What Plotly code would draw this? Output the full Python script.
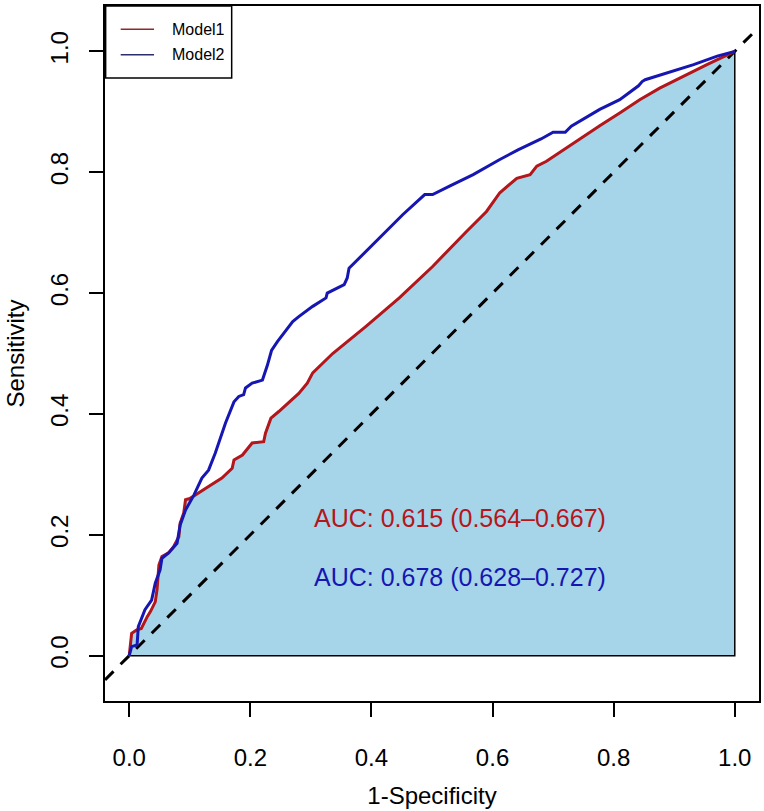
import plotly.graph_objects as go

# ---- data ----
series_names = ["Model1", "Model2"]
m1_fpr = [0, 0.004, 0.013, 0.02, 0.03, 0.035, 0.043, 0.046, 0.049, 0.054, 0.065, 0.073, 0.082, 0.084, 0.09,
          0.093, 0.10, 0.115, 0.131, 0.153, 0.17, 0.173, 0.187, 0.203, 0.222, 0.225, 0.234, 0.247, 0.269, 0.28,
          0.294, 0.303, 0.336, 0.391, 0.446, 0.501, 0.557, 0.59, 0.612, 0.64, 0.662, 0.673, 0.689, 0.717, 0.777,
          0.81, 0.843, 0.876, 0.915, 0.954, 1.0]
m1_tpr = [0, 0.037, 0.043, 0.045, 0.065, 0.073, 0.089, 0.11, 0.15, 0.164, 0.17, 0.18, 0.197, 0.219, 0.236,
          0.258, 0.26, 0.269, 0.28, 0.294, 0.31, 0.324, 0.332, 0.352, 0.354, 0.368, 0.393, 0.404, 0.423, 0.434,
          0.451, 0.468, 0.50, 0.545, 0.592, 0.644, 0.702, 0.735, 0.766, 0.79, 0.796, 0.81, 0.818, 0.837, 0.877,
          0.898, 0.92, 0.939, 0.959, 0.978, 1.0]
m2_fpr = [0, 0.004, 0.013, 0.015, 0.026, 0.037, 0.043, 0.051, 0.054, 0.065, 0.079, 0.084, 0.093, 0.107, 0.12,
          0.131, 0.142, 0.159, 0.173, 0.181, 0.189, 0.192, 0.203, 0.22, 0.228, 0.235, 0.245, 0.26, 0.27, 0.28,
          0.303, 0.325, 0.327, 0.355, 0.36, 0.363, 0.385, 0.418, 0.452, 0.488, 0.501, 0.529, 0.568, 0.612, 0.642,
          0.68, 0.70, 0.72, 0.73, 0.777, 0.81, 0.841, 0.847, 0.852, 0.888, 0.932, 0.971, 1.0]
m2_tpr = [0, 0.015, 0.018, 0.048, 0.076, 0.092, 0.12, 0.142, 0.161, 0.17, 0.186, 0.216, 0.241, 0.266, 0.294,
          0.307, 0.335, 0.385, 0.42, 0.429, 0.432, 0.443, 0.451, 0.456, 0.48, 0.505, 0.52, 0.54, 0.553, 0.561,
          0.578, 0.592, 0.60, 0.614, 0.625, 0.641, 0.663, 0.697, 0.73, 0.763, 0.763, 0.777, 0.796, 0.821, 0.837,
          0.855, 0.866, 0.866, 0.876, 0.904, 0.92, 0.943, 0.95, 0.953, 0.964, 0.978, 0.992, 1.0]
auc_vals = [0.615, 0.678]
auc_lo = [0.564, 0.628]
auc_hi = [0.667, 0.727]
tick_vals = [0.0, 0.2, 0.4, 0.6, 0.8, 1.0]
tick_text = ["0.0", "0.2", "0.4", "0.6", "0.8", "1.0"]

assert len(m1_fpr) == len(m1_tpr) and len(m2_fpr) == len(m2_tpr)

# ---- styling ----
RED = "#B3161B"
BLUE = "#1616B2"
LEG_COLORS = ["#8E2A2A", "#2A2E6E"]
FILL = "#A6D4E9"
FONT = "Liberation Sans, Arial, Helvetica, sans-serif"
x_range = [-0.04, 1.04]
y_range = [-0.075, 1.075]

fig = go.Figure()

# AUC polygon under Model1
fig.add_trace(go.Scatter(
    x=m1_fpr + [m1_fpr[-1], m1_fpr[0]], y=m1_tpr + [0, 0],
    mode="lines", fill="toself", fillcolor=FILL,
    line=dict(color="black", width=1.5), hoverinfo="skip", showlegend=False))

# diagonal reference (abline)
fig.add_trace(go.Scatter(
    x=x_range, y=x_range, mode="lines",
    line=dict(color="black", width=3, dash="12px,10px"), showlegend=False, hoverinfo="skip"))

fig.add_trace(go.Scatter(x=m1_fpr, y=m1_tpr, mode="lines", name=series_names[0],
                         line=dict(color=RED, width=3), showlegend=False))
fig.add_trace(go.Scatter(x=m2_fpr, y=m2_tpr, mode="lines", name=series_names[1],
                         line=dict(color=BLUE, width=3), showlegend=False))

# AUC labels
auc_colors = [RED, BLUE]
auc_y = [0.228, 0.130]
for i in range(2):
    fig.add_annotation(
        x=0.302, y=auc_y[i], xref="x", yref="y", xanchor="left", yanchor="middle",
        text=f"AUC: {auc_vals[i]:.3f} ({auc_lo[i]:.3f}\u2013{auc_hi[i]:.3f})",
        showarrow=False, font=dict(family=FONT, size=25, color=auc_colors[i]))

# manual legend (top-left box)
fig.add_shape(type="rect", xref="paper", yref="paper", x0=0.001, x1=0.1937, y0=0.8964, y1=1.0,
              line=dict(color="black", width=1.5), fillcolor="white", layer="above")
leg_y = [0.9665, 0.930]
for i in range(2):
    fig.add_shape(type="line", xref="paper", yref="paper", x0=0.024, x1=0.075, y0=leg_y[i], y1=leg_y[i],
                  line=dict(color=LEG_COLORS[i], width=1.5), layer="above")
    fig.add_annotation(x=0.0994, y=leg_y[i], xref="paper", yref="paper", xanchor="left", yanchor="middle",
                       text=series_names[i], showarrow=False,
                       font=dict(family=FONT, size=16, color="black"))

axis_common = dict(
    showgrid=False, zeroline=False, showline=True, mirror=True, linecolor="black", linewidth=1.5,
    ticks="outside", ticklen=14, tickwidth=1.5, tickcolor="black",
    tickvals=tick_vals, ticktext=tick_text, tickfont=dict(family=FONT, size=24, color="black"),
    automargin=False)

fig.update_layout(
    width=764, height=811, margin=dict(l=105, r=5, t=6, b=110),
    paper_bgcolor="white", plot_bgcolor="white",
    xaxis=dict(range=x_range, ticklabelstandoff=20,
               title=dict(text="1-Specificity", standoff=18, font=dict(family=FONT, size=24, color="black")),
               **axis_common),
    yaxis=dict(range=y_range, tickangle=-90, ticklabelstandoff=12,
               title=dict(text="Sensitivity", standoff=14, font=dict(family=FONT, size=24, color="black")),
               **axis_common),
)

fig.write_html("out.html")
